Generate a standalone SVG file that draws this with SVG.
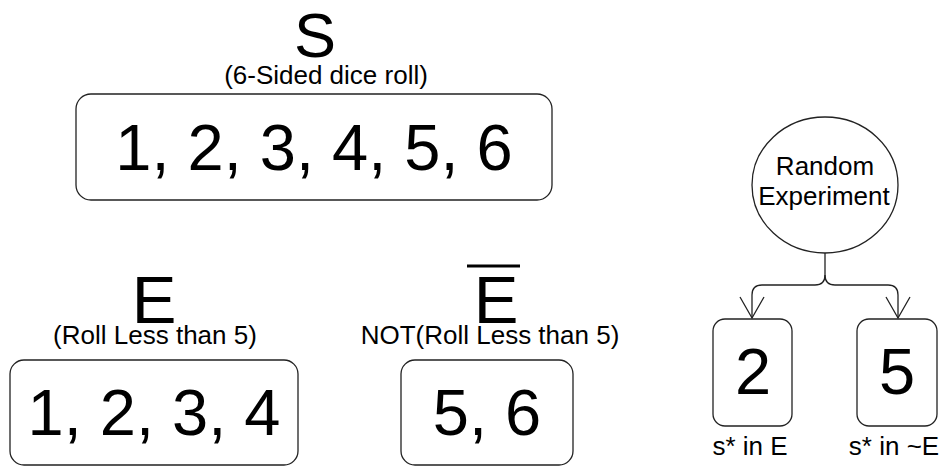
<svg xmlns="http://www.w3.org/2000/svg" width="944" height="468" viewBox="0 0 944 468">
<style>
text{font-family:"Liberation Sans",Arial,sans-serif;fill:#000;text-anchor:middle}
.box{fill:#fff;stroke:#222;stroke-width:1.3}
.big{font-size:65px}
.title{font-size:67px}
.lbl{font-size:26px}
.conn{fill:none;stroke:#222;stroke-width:1.3}
</style>
<defs>
<marker id="vee" markerUnits="userSpaceOnUse" viewBox="-24 -14 26 28" refX="0" refY="0" markerWidth="26" markerHeight="28" orient="auto" overflow="visible">
<path d="M-21,-12 L0,0 L-21,12" fill="none" stroke="#222" stroke-width="1.3"/>
</marker>
</defs>
<rect width="944" height="468" fill="#fff"/>
<g id="S">
<text x="315" y="57" style="font-size:63px">S</text>
<text class="lbl" x="326" y="84">(6-Sided dice roll)</text>
<rect class="box" x="76" y="94" width="476" height="106" rx="15"/>
<text class="big" x="314" y="170">1, 2, 3, 4, 5, 6</text>
</g>
<g id="E">
<text class="title" x="154" y="323">E</text>
<text class="lbl" x="155" y="344">(Roll Less than 5)</text>
<rect class="box" x="10" y="360" width="288" height="105" rx="14"/>
<text class="big" x="154" y="435">1, 2, 3, 4</text>
</g>
<g id="notE">
<line x1="467" y1="266" x2="520" y2="266" stroke="#000" stroke-width="3.2"/>
<text class="title" x="496" y="323">E</text>
<text class="lbl" x="490" y="344">NOT(Roll Less than 5)</text>
<rect class="box" x="401" y="360" width="172" height="105" rx="14"/>
<text class="big" x="487" y="435">5, 6</text>
</g>
<g id="experiment">
<ellipse class="box" cx="825" cy="185" rx="73" ry="68"/>
<text class="lbl" x="825" y="175">Random</text>
<text class="lbl" x="824" y="205">Experiment</text>
</g>
<g id="outcomeE">
<rect class="box" x="713" y="319" width="79" height="107" rx="12"/>
<text class="big" x="753" y="394">2</text>
<text class="lbl" x="750" y="455">s* in E</text>
</g>
<g id="outcomeNotE">
<rect class="box" x="857" y="319" width="80" height="107" rx="12"/>
<text class="big" x="897" y="394">5</text>
<text class="lbl" x="894" y="455">s* in ~E</text>
</g>
<g id="connectors">
<path class="conn" d="M825,253 V275 Q825,285 815,285 H762 Q752,285 752,295 V318" marker-end="url(#vee)"/>
<path class="conn" d="M825,275 Q825,285 835,285 H888 Q898,285 898,295 V318" marker-end="url(#vee)"/>
</g>
</svg>
